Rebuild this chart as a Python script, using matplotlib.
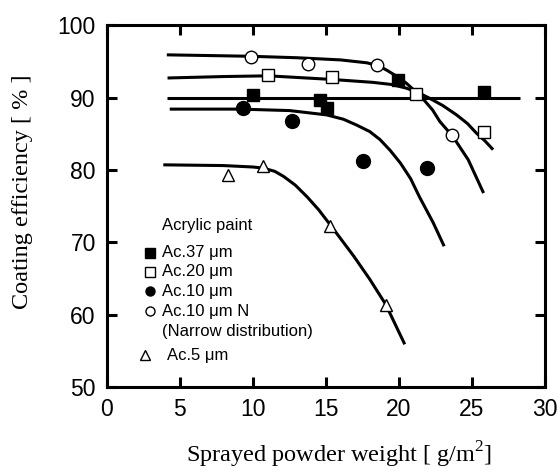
import matplotlib
matplotlib.use("Agg")
import matplotlib.pyplot as plt

plt.rcParams["mathtext.fontset"] = "custom"
plt.rcParams["mathtext.rm"] = "Liberation Serif"

# ---- data ----
ac37_x = [10.0, 14.6, 15.1, 19.95, 25.85]
ac37_y = [90.4, 89.7, 88.5, 92.4, 90.8]
ac20_x = [11.05, 15.4, 21.2, 25.8]
ac20_y = [93.1, 92.8, 90.5, 85.3]
ac10_x = [9.3, 12.7, 17.55, 21.9]
ac10_y = [88.5, 86.7, 81.2, 80.3]
ac10n_x = [9.85, 13.8, 18.5, 23.65]
ac10n_y = [95.6, 94.6, 94.5, 84.8]
ac5_x = [8.3, 10.7, 15.3, 19.1]
ac5_y = [79.3, 80.5, 72.2, 61.4]

# fitted curves
c37_x = [4.1, 28.3]
c37_y = [89.9, 89.9]
c20_x = [4.15, 8.0, 11.05, 15.4, 18.2, 19.5, 20.5, 21.3, 22.1, 23.0, 23.95, 24.7, 25.3, 25.9, 26.45]
c20_y = [92.7, 92.9, 93.0, 92.5, 92.1, 91.8, 91.3, 90.7, 89.9, 88.9, 87.6, 86.4, 85.1, 84.0, 82.8]
c10n_x = [4.1, 7.0, 9.86, 13.0, 16.0, 17.8, 18.6, 19.15, 19.8, 20.5, 21.1, 21.7, 22.3, 22.8, 23.7, 24.75, 25.8]
c10n_y = [95.9, 95.8, 95.7, 95.5, 95.2, 94.8, 94.4, 93.8, 93.0, 92.0, 90.9, 89.7, 88.3, 86.7, 84.6, 81.4, 76.8]
c10_x = [4.3, 9.1, 12.5, 15.05, 16.2, 17.1, 18.0, 18.7, 19.4, 20.1, 20.8, 21.4, 22.35, 23.1]
c10_y = [88.4, 88.4, 88.2, 87.6, 87.0, 86.2, 85.3, 84.2, 82.7, 80.95, 78.8, 76.3, 72.7, 69.45]
c5_x = [3.86, 7.97, 10.0, 10.7, 11.5, 12.1, 12.9, 13.7, 14.5, 15.3, 16.9, 18.0, 19.1, 20.4]
c5_y = [80.7, 80.6, 80.4, 80.25, 79.8, 79.1, 77.9, 76.3, 74.5, 72.4, 68.1, 64.9, 61.4, 55.9]

xticks = [0, 5, 10, 15, 20, 25, 30]
yticks = [50, 60, 70, 80, 90, 100]

fig = plt.figure(figsize=(5.6, 4.73), dpi=100)
ax = fig.add_axes([0.191, 0.1818, 0.782, 0.765])

lw = 2.2
for cx, cy in [(c37_x, c37_y), (c20_x, c20_y), (c10n_x, c10n_y), (c10_x, c10_y), (c5_x, c5_y)]:
    ax.plot(cx, cy, color="black", lw=lw, zorder=2, solid_capstyle="butt")

ms = 9
ax.plot(ac37_x, ac37_y, "s", ms=ms, mfc="black", mec="black", mew=1, zorder=3)
ax.plot(ac20_x, ac20_y, "s", ms=ms, mfc="white", mec="black", mew=1, zorder=3)
ax.plot(ac10_x, ac10_y, "o", ms=ms + 1, mfc="black", mec="black", mew=1, zorder=3)
ax.plot(ac10n_x, ac10n_y, "o", ms=ms, mfc="white", mec="black", mew=1, zorder=3)
ax.plot(ac5_x, ac5_y, "^", ms=ms, mfc="white", mec="black", mew=1, zorder=3)

ax.set_xlim(0, 30)
ax.set_ylim(50, 100)
ax.set_xticks(xticks)
ax.set_yticks(yticks)
for s in ax.spines.values():
    s.set_linewidth(2.2)
ax.tick_params(direction="in", length=7, width=2.2, top=True, right=True,
               labelsize=16.5, pad=8)
for lab in ax.get_xticklabels() + ax.get_yticklabels():
    lab.set_fontfamily("Liberation Sans")

fig.text(0.605, 0.038, "Sprayed powder weight [ g/m$^2$]", fontfamily="Liberation Serif",
         fontsize=17.5, ha="center", va="center")
fig.text(0.041, 0.594, "Coating efficiency [ % ]", fontfamily="Liberation Serif",
         fontsize=17.5, ha="center", va="center", rotation=90)

# legend drawn as text
tf = ax.transAxes
fs = 12
ff = "Liberation Sans"
ax.text(0.125, 0.4475, "Acrylic paint", transform=tf, fontsize=fs, fontfamily=ff, va="center")
legend_rows = [
    (0.371, "s", "black", "Ac.37 \u03bcm"),
    (0.3185, "s", "white", "Ac.20 \u03bcm"),
    (0.265, "o", "black", "Ac.10 \u03bcm"),
    (0.21, "o", "white", "Ac.10 \u03bcm N"),
]
for yy, mk, fc, txt in legend_rows:
    ax.plot([0.098], [yy], mk, ms=6.5, mfc=fc, mec="black", mew=1, transform=tf, clip_on=False)
    ax.text(0.125, yy, txt, transform=tf, fontsize=fs, fontfamily=ff, va="center")
ax.text(0.125, 0.153, "(Narrow distribution)", transform=tf, fontsize=fs, fontfamily=ff, va="center")
ax.plot([0.087], [0.088], "^", ms=6.5, mfc="white", mec="black", mew=1, transform=tf, clip_on=False)
ax.text(0.136, 0.088, "Ac.5 \u03bcm", transform=tf, fontsize=fs, fontfamily=ff, va="center")

fig.savefig("out.png", dpi=100)
